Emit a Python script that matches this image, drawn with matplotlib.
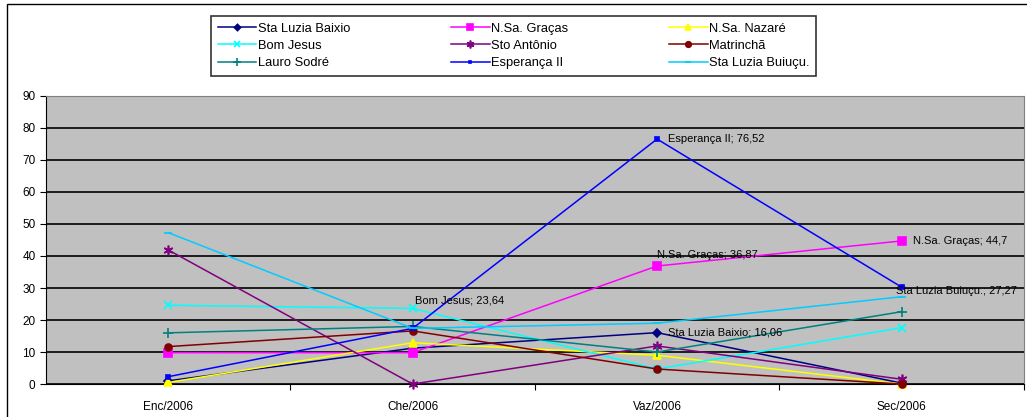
import matplotlib.pyplot as plt
from matplotlib.patches import Rectangle

plt.rcParams['font.family'] = ['Liberation Sans', 'DejaVu Sans']

months = ["Enc/2006", "Che/2006", "Vaz/2006", "Sec/2006"]

sta_luzia_baixio = [1.0, 11.2, 16.06, 0.3]
ns_gracas = [9.8, 9.8, 36.87, 44.7]
ns_nazare = [0.5, 12.9, 9.0, 0.0]
bom_jesus = [24.6, 23.64, 4.7, 17.6]
sto_antonio = [41.9, 0.0, 11.9, 1.5]
matrincha = [11.7, 16.6, 4.7, 0.0]
lauro_sodre = [16.0, 18.0, 10.0, 22.6]
esperanca = [2.3, 17.4, 76.52, 30.3]
sta_luzia_buiucu = [47.3, 17.4, 19.0, 27.27]

series = [
    ("Sta Luzia Baixio", sta_luzia_baixio, "#000080", "D", 4),
    ("N.Sa. Graças", ns_gracas, "#FF00FF", "s", 6),
    ("N.Sa. Nazaré", ns_nazare, "#FFFF00", "^", 6),
    ("Bom Jesus", bom_jesus, "#00FFFF", "x", 6),
    ("Sto Antônio", sto_antonio, "#800080", (6, 2, 0), 7),
    ("Matrinchã", matrincha, "#800000", "o", 5),
    ("Lauro Sodré", lauro_sodre, "#008080", "+", 7),
    ("Esperança II", esperanca, "#0000FF", "s", 2.5),
    ("Sta Luzia Buiuçu.", sta_luzia_buiucu, "#00CCFF", "_", 6),
]

# labelled points: (series index, point index, text, dx, dy in points)
point_labels = [
    (3, 1, "Bom Jesus; 23,64", 2, 6),
    (7, 2, "Esperança II; 76,52", 8, 0),
    (1, 2, "N.Sa. Graças; 36,87", 0, 8),
    (0, 2, "Sta Luzia Baixio; 16,06", 8, 0),
    (1, 3, "N.Sa. Graças; 44,7", 8, 0),
    (8, 3, "Sta Luzia Buiuçu.; 27,27", -4, 4),
]

fig = plt.figure(figsize=(10.27, 4.17), dpi=100)
ax = fig.add_axes([0.0448, 0.079, 0.952, 0.691])
ax.set_facecolor("#C0C0C0")

x = list(range(len(months)))
handles = []
for name, vals, color, marker, ms in series:
    h, = ax.plot(x, vals, color=color, marker=marker, markersize=ms, linewidth=1.1,
                 markeredgecolor=color, markerfacecolor=color, markeredgewidth=1.2,
                 label=name, zorder=3, clip_on=False)
    handles.append(h)

for si, pi, txt, dx, dy in point_labels:
    ax.annotate(txt, (x[pi], series[si][1][pi]), xytext=(dx, dy), textcoords="offset points",
                fontsize=8, va="center", ha="left", zorder=4)

ax.set_xlim(-0.5, len(months) - 0.5)
ax.set_ylim(0, 90)
ax.set_yticks(range(0, 91, 10))
ax.yaxis.grid(True, color="black", linewidth=1.2)
ax.set_axisbelow(True)

ax.set_xticks([i + 0.5 for i in range(len(months))])
ax.set_xticklabels([])
ax.set_xticks(x, minor=True)
ax.set_xticklabels(months, minor=True, fontsize=8.5)
ax.tick_params(axis="x", which="minor", length=0, pad=12)
ax.tick_params(axis="x", which="major", length=4, direction="out")
ax.tick_params(axis="y", labelsize=8.5, length=4)

for side in ["top", "right"]:
    ax.spines[side].set_color("#808080")
ax.spines["left"].set_color("black")
ax.spines["bottom"].set_color("black")

# legend filled row by row like the original
order = [0, 3, 6, 1, 4, 7, 2, 5, 8]
leg = fig.legend(handles=[handles[i] for i in order], loc="center",
                 bbox_to_anchor=(0.2, 0.8, 0.6, 0.18), bbox_transform=fig.transFigure,
                 ncol=3, fontsize=9.3, frameon=True, fancybox=False, edgecolor="black",
                 columnspacing=7.8, handlelength=3.0, handletextpad=0.1, labelspacing=0.4,
                 borderpad=0.5, borderaxespad=0, markerscale=0.8)
leg.get_frame().set_linewidth(1.2)

# chart-area border
fig.patches.append(Rectangle((0.007, -0.05), 1.1, 1.04, transform=fig.transFigure,
                             fill=False, edgecolor="black", linewidth=1.0))

fig.savefig("out.png", dpi=100)
plt.close(fig)
